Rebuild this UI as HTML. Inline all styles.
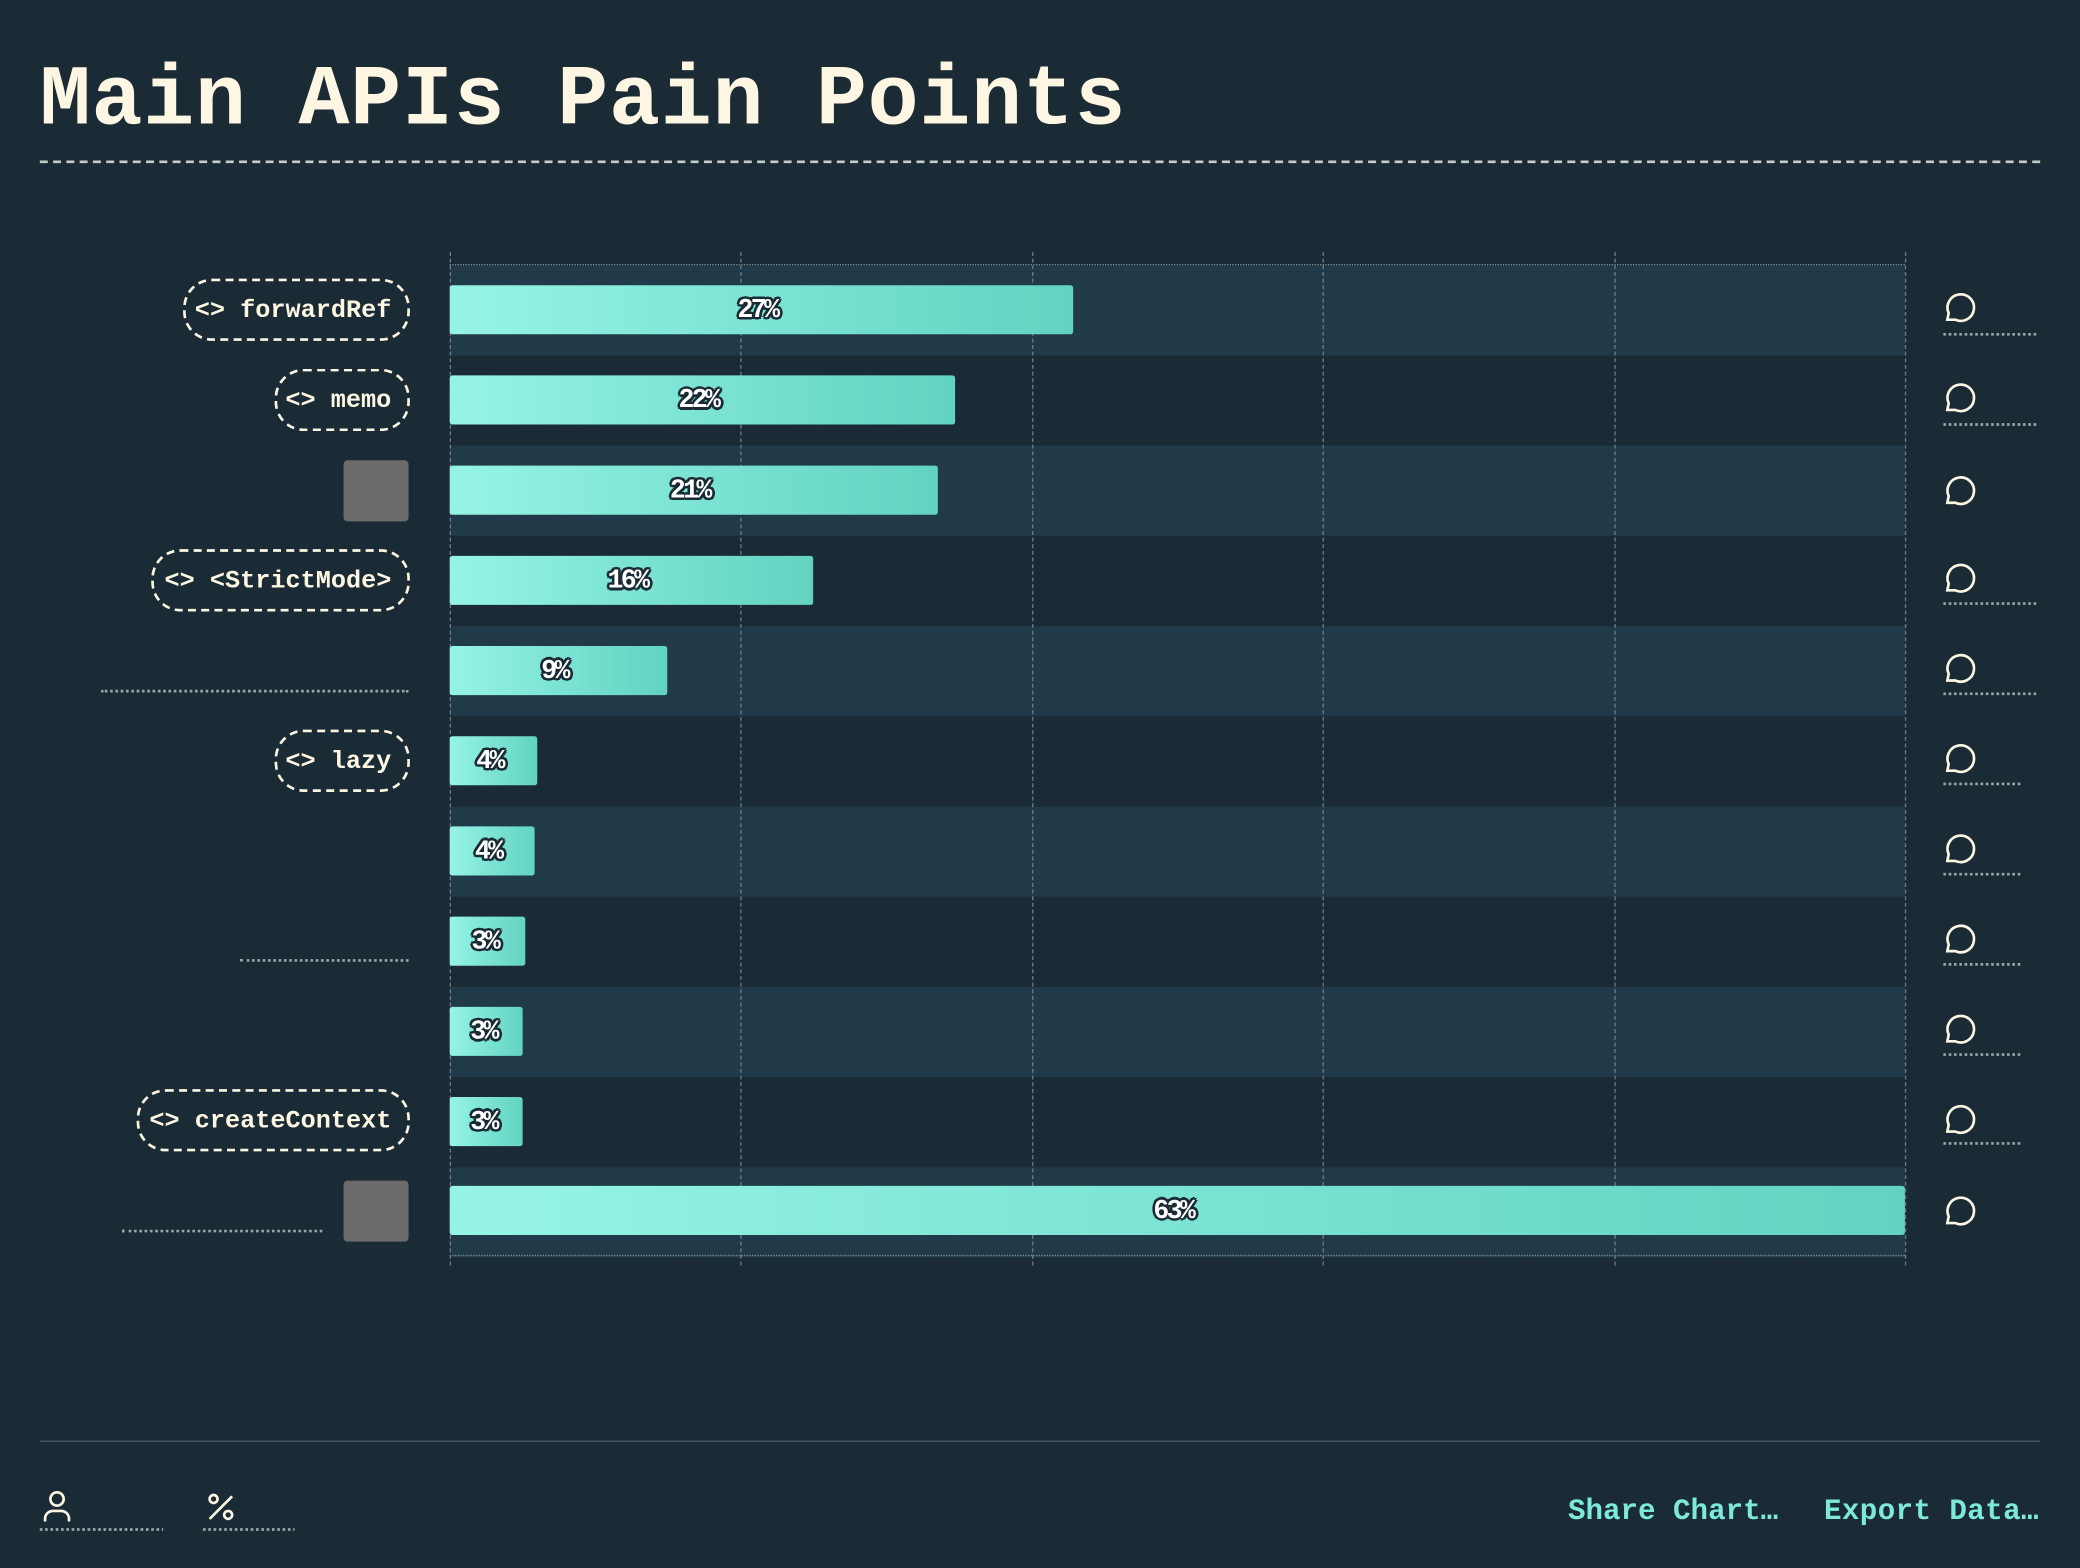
<!DOCTYPE html>
<html><head><meta charset="utf-8"><style>
html,body{margin:0;padding:0;background:#1a2b35;overflow:hidden;width:2080px;height:1568px}
#w{position:absolute;left:0;top:0;width:1568px;height:1182px;transform:scale(1.326531);transform-origin:0 0;font-family:"Liberation Mono",monospace;color:#fdf6e3}
.a{position:absolute}
.row{position:absolute;left:339px;width:1097px;height:68px}
.bar{position:absolute;left:339px;height:37px;border-radius:2px;background:linear-gradient(90deg,#96f4e6,#62d3c2)}
.pct{position:absolute;height:37px;line-height:39px;text-align:center;font-weight:bold;font-size:20px;color:#fff;letter-spacing:-2px;text-shadow:-1.5px -1.5px 0 #1a2b35,1.5px -1.5px 0 #1a2b35,-1.5px 1.5px 0 #1a2b35,1.5px 1.5px 0 #1a2b35,0 2px 0 #1a2b35,2px 0 0 #1a2b35,-2px 0 0 #1a2b35,0 -2px 0 #1a2b35}
.vg{position:absolute;top:190px;height:764px;border-left:1px dashed #6b7b85;width:0}
.pill{position:absolute;height:43px;border:2px dashed #fdf6e3;border-radius:22px;font-weight:bold;font-size:19px;line-height:45px;text-align:right;padding-right:12px;box-sizing:content-box}
.gray{position:absolute;left:259px;width:49px;height:46px;background:#6b6b6b;border-radius:3px}
.dl{position:absolute;border-top:2px dotted #9aa4aa;height:0}
</style></head><body><div id="w">
<div class="a" style="left:30px;top:39px;font-size:64px;font-weight:bold;letter-spacing:0.6px;line-height:76px">Main APIs Pain Points</div>
<div class="a" style="left:30px;top:121px;width:1508px;border-top:2px dashed #c8ccc8"></div>

<div class="row" style="top:200px;background:#203a4a"></div>
<div class="row" style="top:336px;background:#203a4a"></div>
<div class="row" style="top:472px;background:#203a4a"></div>
<div class="row" style="top:608px;background:#203a4a"></div>
<div class="row" style="top:744px;background:#203a4a"></div>
<div class="row" style="top:880px;background:#203a4a"></div>
<div class="a" style="left:339px;top:199px;width:1097px;border-top:1px dotted #7b8a93"></div>
<div class="a" style="left:339px;top:946px;width:1097px;border-top:1px dotted #7b8a93"></div>
<div class="vg" style="left:339px"></div><div class="vg" style="left:558px"></div><div class="vg" style="left:778px"></div><div class="vg" style="left:997px"></div><div class="vg" style="left:1217px"></div><div class="vg" style="left:1436px"></div>

<div class="bar" style="top:215px;width:470px"></div><div class="pct" style="left:336px;top:215px;width:470px">27%</div>
<div class="bar" style="top:283px;width:381px"></div><div class="pct" style="left:336px;top:283px;width:381px">22%</div>
<div class="bar" style="top:351px;width:368px"></div><div class="pct" style="left:336px;top:351px;width:368px">21%</div>
<div class="bar" style="top:419px;width:274px"></div><div class="pct" style="left:336px;top:419px;width:274px">16%</div>
<div class="bar" style="top:487px;width:164px"></div><div class="pct" style="left:336px;top:487px;width:164px">9%</div>
<div class="bar" style="top:555px;width:66px"></div><div class="pct" style="left:336px;top:555px;width:66px">4%</div>
<div class="bar" style="top:623px;width:64px"></div><div class="pct" style="left:336px;top:623px;width:64px">4%</div>
<div class="bar" style="top:691px;width:57px"></div><div class="pct" style="left:337px;top:691px;width:57px">3%</div>
<div class="bar" style="top:759px;width:55px"></div><div class="pct" style="left:337px;top:759px;width:55px">3%</div>
<div class="bar" style="top:827px;width:55px"></div><div class="pct" style="left:337px;top:827px;width:55px">3%</div>
<div class="bar" style="top:894px;width:1097px"></div><div class="pct" style="left:336px;top:894px;width:1097px">63%</div>

<div class="pill" style="left:138px;top:210px;width:155px">&lt;&gt; forwardRef</div>
<div class="pill" style="left:207px;top:278px;width:86px">&lt;&gt; memo</div>
<div class="gray" style="top:347px"></div>
<div class="pill" style="left:114px;top:414px;width:179px">&lt;&gt; &lt;StrictMode&gt;</div>
<div class="dl" style="left:76px;top:520px;width:232px"></div>
<div class="pill" style="left:207px;top:550px;width:86px">&lt;&gt; lazy</div>
<div class="dl" style="left:181px;top:723px;width:127px"></div>
<div class="pill" style="left:103px;top:821px;width:190px">&lt;&gt; createContext</div>
<div class="gray" style="top:890px"></div>
<div class="dl" style="left:92px;top:927px;width:151px"></div>

<svg class="a" style="left:0;top:0" width="1568" height="1182">
<g fill="none" stroke="#fdf6e3" stroke-width="2">
<g id="c"><path d="M1468 241 L1469 236 A10 10 0 1 1 1474 241 Z"/></g>
<use href="#c" y="68"/><use href="#c" y="138"/><use href="#c" y="204"/><use href="#c" y="272"/><use href="#c" y="340"/><use href="#c" y="408"/><use href="#c" y="476"/><use href="#c" y="544"/><use href="#c" y="612"/><use href="#c" y="681"/>
<circle cx="43" cy="1130" r="5"/><path d="M34 1147 v-3 a6 6 0 0 1 6 -5 h6 a6 6 0 0 1 6 5 v3"/>
<circle cx="161" cy="1130" r="3"/><circle cx="172" cy="1142" r="3"/><line x1="175" y1="1128" x2="158" y2="1145"/>
</g>
<g stroke="#9aa4aa" stroke-width="2" stroke-dasharray="2 2">
<line x1="1465" y1="252" x2="1537" y2="252"/><line x1="1465" y1="320" x2="1537" y2="320"/><line x1="1465" y1="455" x2="1537" y2="455"/><line x1="1465" y1="523" x2="1537" y2="523"/>
<line x1="1465" y1="591" x2="1523" y2="591"/><line x1="1465" y1="659" x2="1523" y2="659"/><line x1="1465" y1="727" x2="1523" y2="727"/><line x1="1465" y1="795" x2="1523" y2="795"/><line x1="1465" y1="862" x2="1523" y2="862"/>
<line x1="30" y1="1153" x2="123" y2="1153"/><line x1="153" y1="1153" x2="222" y2="1153"/>
</g>
</svg>
<div class="a" style="left:30px;top:1086px;width:1508px;border-top:1px solid #4a5b66"></div>
<div class="a" style="left:1182px;top:1127px;font-size:22px;font-weight:bold;color:#7de8dc">Share Chart…</div>
<div class="a" style="left:1375px;top:1127px;font-size:22px;font-weight:bold;color:#7de8dc;letter-spacing:0.3px">Export Data…</div>
</div></body></html>
